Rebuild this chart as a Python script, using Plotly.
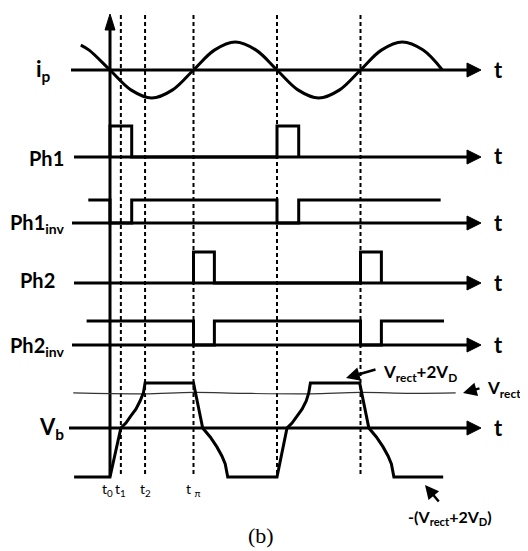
import plotly.graph_objects as go

# ---------------- data (time in units of pi rad) ----------------
marker_times = [0.13, 0.42, 1.0, 2.0, 3.0]
marker_labels = ["t<sub>0</sub>", "t<sub>1</sub>", "t<sub>2</sub>", "t <sub>π</sub>"]
marker_label_times = [-0.03, 0.13, 0.42, 1.0]

ip_t = [-0.35, -0.25, 0, 0.25, 0.5, 0.75, 1.0, 1.25, 1.5, 1.75, 2.0, 2.25, 2.5, 2.75, 3.0, 3.25, 3.5, 3.75, 3.98]
ip_v = [0.89, 0.71, 0, -0.71, -1, -0.71, 0, 0.71, 1, 0.71, 0, -0.71, -1, -0.71, 0, 0.71, 1, 0.71, 0.0]

ph1_t = [0, 0, 0.26, 0.26, 2.0, 2.0, 2.26, 2.26]
ph1_v = [0, 1, 1, 0, 0, 1, 1, 0]

ph1inv_t = [-0.26, 0, 0, 0.26, 0.26, 2.0, 2.0, 2.26, 2.26, 3.96]
ph1inv_v = [1, 1, 0, 0, 1, 1, 0, 0, 1, 1]

ph2_t = [1.0, 1.0, 1.25, 1.25, 3.0, 3.0, 3.25, 3.25]
ph2_v = [0, 1, 1, 0, 0, 1, 1, 0]

ph2inv_t = [-0.28, 1.0, 1.0, 1.25, 1.25, 3.0, 3.0, 3.25, 3.25, 4.0]
ph2inv_v = [1, 1, 0, 0, 1, 1, 0, 0, 1, 1]

vb_t = [-0.43, 0, 0.13, 0.19, 0.25, 0.31, 0.36, 0.40, 0.42, 1.0, 1.11, 1.20, 1.28, 1.34, 1.38, 1.41,
        2.0, 2.12, 2.18, 2.24, 2.30, 2.35, 2.38, 2.40, 2.99, 3.10, 3.19, 3.27, 3.33, 3.37, 3.40, 3.99]
vb_v = [-1.09, -1.09, 0, 0.11, 0.27, 0.42, 0.6, 0.78, 1.0, 1.0, 0, -0.2, -0.42, -0.62, -0.8, -1.09,
        -1.09, 0, 0.11, 0.27, 0.42, 0.6, 0.78, 1.0, 1.0, 0, -0.2, -0.42, -0.62, -0.8, -1.09, -1.09]

vrect_t = [-0.44, 0.4, 1.0, 1.6, 2.4, 3.0, 3.6, 4.14]
vrect_v = [0.78, 0.76, 0.79, 0.77, 0.76, 0.79, 0.77, 0.78]

# ---------------- layout constants ----------------
W, H = 528, 551
OFF = 8                       # default page margin of the html body
X0, UNIT = 110, 83.5          # pixel of t=0, pixels per pi


def P(px):
    return (px - X0) / UNIT


# row: (baseline y, pixels per unit, axis start px)
rows = {
    "ip": (70, 28, 71),
    "ph1": (157, 31, 74),
    "ph1inv": (223, 23, 72),
    "ph2": (283, 31, 74),
    "ph2inv": (345, 24, 72),
    "vb": (428, 45, 69),
}
LW = 3
BLACK = "#000000"

fig = go.Figure()


def line(xs, ys, width=LW, dash=None, color=BLACK, shape="linear"):
    fig.add_trace(go.Scatter(x=xs, y=ys, mode="lines", hoverinfo="skip",
                             line=dict(color=color, width=width, dash=dash, shape=shape)))


def tri(pts):
    xs = [p[0] for p in pts] + [pts[0][0]]
    ys = [p[1] for p in pts] + [pts[0][1]]
    fig.add_trace(go.Scatter(x=xs, y=ys, mode="lines", fill="toself", fillcolor=BLACK,
                             line=dict(color=BLACK, width=1), hoverinfo="skip"))


def sig(key, ts, vs, shape="linear", width=LW, color=BLACK):
    base, scale, _ = rows[key]
    line(ts, [base - v * scale for v in vs], width=width, shape=shape, color=color)


# dashed time markers
for t in marker_times:
    line([t, t], [15, 475], width=2, dash="4px,3px")

# horizontal axes with arrows
for key, (base, scale, start) in rows.items():
    line([P(start), P(470)], [base, base])
    tri([(P(467), base - 7), (P(481), base), (P(467), base + 7)])

# vertical axis
line([0, 0], [476, 28])
tri([(P(105), 30), (P(110), 14), (P(115), 30)])

# signals
sig("vb", vrect_t, vrect_v, shape="spline", width=1.2, color="#333333")
sig("ip", ip_t, ip_v, shape="spline")
sig("ph1", ph1_t, ph1_v)
sig("ph1inv", ph1inv_t, ph1inv_v)
sig("ph2", ph2_t, ph2_v)
sig("ph2inv", ph2inv_t, ph2inv_v)
sig("vb", vb_t, vb_v)

FONT = "Lato"
ann = []


def text(px, py, s, size, anchor="left", bold=True, family=FONT):
    if bold:
        s = "<b>" + s + "</b>"
    ann.append(dict(x=(px - OFF) / (W - OFF), y=1 - (py - OFF) / (H - OFF),
                    xref="paper", yref="paper", text=s, showarrow=False,
                    xanchor=anchor, yanchor="middle",
                    font=dict(size=size, family=family, color=BLACK)))


text(34, 70, "i<sub>p</sub>", 22)
text(27, 158, "Ph1", 20)
text(8, 223, "Ph1<sub>inv</sub>", 20)
text(18, 280, "Ph2", 20)
text(8, 346, "Ph2<sub>inv</sub>", 20)
text(37, 428, "V<sub>b</sub>", 22)
for key, (base, scale, start) in rows.items():
    text(492, base - 1, "t", 22)

for t, s in zip(marker_label_times, marker_labels):
    text(X0 + t * UNIT, 489, s, 14, anchor="center", bold=False)

text(381, 373, "V<sub>rect</sub>+2V<sub>D</sub>", 17)
text(485, 389, "V<sub>rect</sub>", 17)
text(406, 517, "-(V<sub>rect</sub>+2V<sub>D</sub>)", 16)
text(261, 535, "(b)", 22, anchor="center", bold=False, family="Liberation Serif")


def arrow(tip, tail):
    ann.append(dict(x=P(tip[0]), y=tip[1], ax=P(tail[0]), ay=tail[1], xref="x", yref="y",
                    axref="x", ayref="y", text="", showarrow=True, arrowhead=2,
                    arrowsize=1.1, arrowwidth=2.5, arrowcolor=BLACK))


arrow((346, 378), (377, 369))
arrow((463, 393), (481, 388))
arrow((425, 485), (440, 503))

fig.update_layout(
    width=W - OFF, height=H - OFF, autosize=False,
    margin=dict(l=0, r=0, t=0, b=0),
    paper_bgcolor="white", plot_bgcolor="white",
    showlegend=False,
    xaxis=dict(range=[P(OFF), P(W)], visible=False, fixedrange=True),
    yaxis=dict(range=[H, OFF], visible=False, fixedrange=True),
    annotations=ann,
)

fig.write_html("out.html")
